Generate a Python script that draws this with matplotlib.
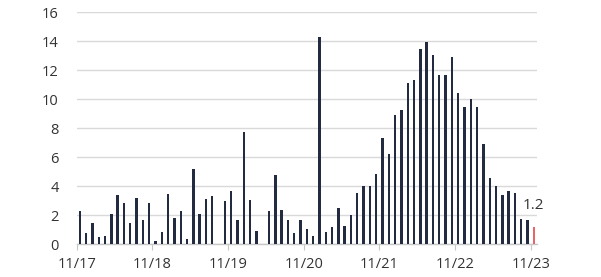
import matplotlib
matplotlib.use("Agg")
import matplotlib.pyplot as plt
import numpy as np

plt.rcParams['font.family'] = ['Open Sans', 'DejaVu Sans']

tick_labels = ["11/17", "11/18", "11/19", "11/20", "11/21", "11/22", "11/23"]
values = [
    2.3, 0.8, 1.5, 0.5, 0.55, 2.1, 3.4, 2.85, 1.5, 3.2, 1.7, 2.85,
    0.25, 0.85, 3.45, 1.8, 2.3, 0.4, 5.2, 2.1, 3.1, 3.35, 0.0, 3.0,
    3.65, 1.65, 7.75, 3.05, 0.95, 0.0, 2.3, 4.75, 2.4, 1.65, 0.8, 1.7,
    1.05, 0.55, 14.3, 0.85, 1.2, 2.5, 1.25, 2.0, 3.55, 4.0, 4.0, 4.85,
    7.35, 6.25, 8.9, 9.25, 11.1, 11.3, 13.5, 13.95, 13.05, 11.7, 11.65, 12.95,
    10.45, 9.5, 10.0, 9.45, 6.95, 4.55, 4.0, 3.4, 3.7, 3.55, 1.75, 1.7,
    1.2,
]
last_label = "1.2"

navy = "#222b3f"
red = "#e8666a"
colors = [navy] * (len(values) - 1) + [red]

fig = plt.figure(figsize=(6.01, 2.77), dpi=100)
ax = fig.add_axes([0.1276, 0.118, 0.7659, 0.8376])

x = np.arange(len(values))
ax.bar(x, values, width=0.38, color=colors, zorder=3)

ax.set_ylim(0, 16)
ax.set_yticks(np.arange(0, 17, 2))
ax.set_xlim(-0.5, len(values) - 0.5)
ax.set_xticks([-0.5 + 12 * k for k in range(len(tick_labels))])
ax.set_xticklabels(tick_labels)

ax.grid(axis='y', color='#d9d9d9', linewidth=1.0, zorder=0)
for s in ['top', 'right', 'left']:
    ax.spines[s].set_visible(False)
ax.spines['bottom'].set_color('#c8c8c8')
ax.spines['bottom'].set_linewidth(1.0)
ax.tick_params(axis='y', length=0, pad=13, labelsize=10.5, labelcolor='#333333')
ax.tick_params(axis='x', length=4, color='#c8c8c8', pad=5, labelsize=10.5, labelcolor='#333333')

ax.annotate(last_label, (x[-1], values[-1]), xytext=(0, 10), textcoords='offset points',
            ha='center', va='bottom', fontsize=11, color='#333333')

fig.savefig("out.png", dpi=100)
